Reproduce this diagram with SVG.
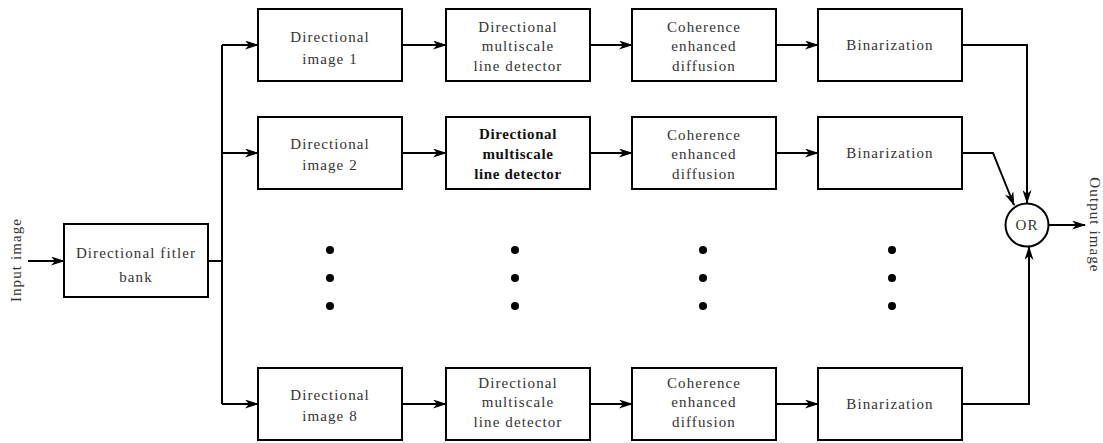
<svg xmlns="http://www.w3.org/2000/svg" width="1103" height="443" viewBox="0 0 1103 443">
<style>
.box{fill:#fff;stroke:#000;stroke-width:2}
.t{font-family:"Liberation Serif","DejaVu Serif",serif;font-size:15px;fill:#333;text-anchor:middle;letter-spacing:1.1px}
.b{font-weight:bold;fill:#111;letter-spacing:0.6px}
.c{fill:none;stroke:#000;stroke-width:2}
.dot{fill:#000}
</style>
<defs>
<marker id="ah" viewBox="0 0 14 9" refX="13" refY="4.5" markerWidth="14" markerHeight="9" markerUnits="userSpaceOnUse" orient="auto">
<path d="M0,0 L14,4.5 L0,9 L4,4.5 z" fill="#000"/>
</marker>
</defs>
<g id="connectors">
<line class="c" x1="28" y1="261" x2="64" y2="261" marker-end="url(#ah)"/>
<polyline class="c" points="208,261 222,261"/>
<polyline class="c" points="222,404 222,45"/>
<line class="c" x1="222" y1="45" x2="258" y2="45" marker-end="url(#ah)"/>
<line class="c" x1="222" y1="153" x2="258" y2="153" marker-end="url(#ah)"/>
<line class="c" x1="222" y1="404" x2="258" y2="404" marker-end="url(#ah)"/>
<line class="c" x1="402" y1="45" x2="446" y2="45" marker-end="url(#ah)"/>
<line class="c" x1="590" y1="45" x2="632" y2="45" marker-end="url(#ah)"/>
<line class="c" x1="776" y1="45" x2="818" y2="45" marker-end="url(#ah)"/>
<line class="c" x1="402" y1="153" x2="446" y2="153" marker-end="url(#ah)"/>
<line class="c" x1="590" y1="153" x2="632" y2="153" marker-end="url(#ah)"/>
<line class="c" x1="776" y1="153" x2="818" y2="153" marker-end="url(#ah)"/>
<line class="c" x1="402" y1="404" x2="446" y2="404" marker-end="url(#ah)"/>
<line class="c" x1="590" y1="404" x2="632" y2="404" marker-end="url(#ah)"/>
<line class="c" x1="776" y1="404" x2="818" y2="404" marker-end="url(#ah)"/>
<polyline class="c" points="962,45 1027,45 1027,203" marker-end="url(#ah)"/>
<polyline class="c" points="962,153 993,153 1014,205" marker-end="url(#ah)"/>
<polyline class="c" points="962,404 1029,404 1029,247" marker-end="url(#ah)"/>
<line class="c" x1="1048" y1="225" x2="1085" y2="225" marker-end="url(#ah)"/>
</g>
<text class="t" transform="translate(21,260) rotate(-90)">Input image</text>
<text class="t" transform="translate(1090,225) rotate(90)">Output image</text>
<g id="filterbank">
<rect class="box" x="64" y="224" width="144" height="73"/>
<text class="t" x="136" y="258">Directional fitler</text>
<text class="t" x="136" y="282">bank</text>
</g>
<g id="dir1"><rect class="box" x="258" y="9" width="144" height="72"/>
<text class="t" x="330" y="42">Directional</text><text class="t" x="330" y="64">image 1</text></g>
<g id="mld1"><rect class="box" x="446" y="9" width="144" height="72"/>
<text class="t" x="518" y="32">Directional</text><text class="t" x="518" y="51">multiscale</text><text class="t" x="518" y="71">line detector</text></g>
<g id="ced1"><rect class="box" x="632" y="9" width="144" height="72"/>
<text class="t" x="704" y="32">Coherence</text><text class="t" x="704" y="51">enhanced</text><text class="t" x="704" y="71">diffusion</text></g>
<g id="bin1"><rect class="box" x="818" y="9" width="144" height="72"/>
<text class="t" x="890" y="50">Binarization</text></g>
<g id="dir2"><rect class="box" x="258" y="117" width="144" height="72"/>
<text class="t" x="330" y="149">Directional</text><text class="t" x="330" y="170">image 2</text></g>
<g id="mld2"><rect class="box" x="446" y="117" width="144" height="72"/>
<text class="t b" x="518" y="139">Directional</text><text class="t b" x="518" y="159">multiscale</text><text class="t b" x="518" y="179">line detector</text></g>
<g id="ced2"><rect class="box" x="632" y="117" width="144" height="72"/>
<text class="t" x="704" y="140">Coherence</text><text class="t" x="704" y="159">enhanced</text><text class="t" x="704" y="179">diffusion</text></g>
<g id="bin2"><rect class="box" x="818" y="117" width="144" height="72"/>
<text class="t" x="890" y="158">Binarization</text></g>
<g id="dir8"><rect class="box" x="258" y="368" width="144" height="72"/>
<text class="t" x="330" y="400">Directional</text><text class="t" x="330" y="421">image 8</text></g>
<g id="mld8"><rect class="box" x="446" y="368" width="144" height="72"/>
<text class="t" x="518" y="388">Directional</text><text class="t" x="518" y="407">multiscale</text><text class="t" x="518" y="427">line detector</text></g>
<g id="ced8"><rect class="box" x="632" y="368" width="144" height="72"/>
<text class="t" x="704" y="388">Coherence</text><text class="t" x="704" y="407">enhanced</text><text class="t" x="704" y="427">diffusion</text></g>
<g id="bin8"><rect class="box" x="818" y="368" width="144" height="72"/>
<text class="t" x="890" y="409">Binarization</text></g>
<g id="or"><circle class="box" cx="1027" cy="225" r="21.5"/>
<text class="t" x="1027" y="230">OR</text></g>
<g id="dots">
<circle class="dot" cx="330" cy="250" r="4"/><circle class="dot" cx="330" cy="278" r="4"/><circle class="dot" cx="330" cy="306" r="4"/>
<circle class="dot" cx="515" cy="250" r="4"/><circle class="dot" cx="515" cy="278" r="4"/><circle class="dot" cx="515" cy="306" r="4"/>
<circle class="dot" cx="703" cy="250" r="4"/><circle class="dot" cx="703" cy="278" r="4"/><circle class="dot" cx="703" cy="306" r="4"/>
<circle class="dot" cx="892" cy="250" r="4"/><circle class="dot" cx="892" cy="278" r="4"/><circle class="dot" cx="892" cy="306" r="4"/>
</g>
</svg>
